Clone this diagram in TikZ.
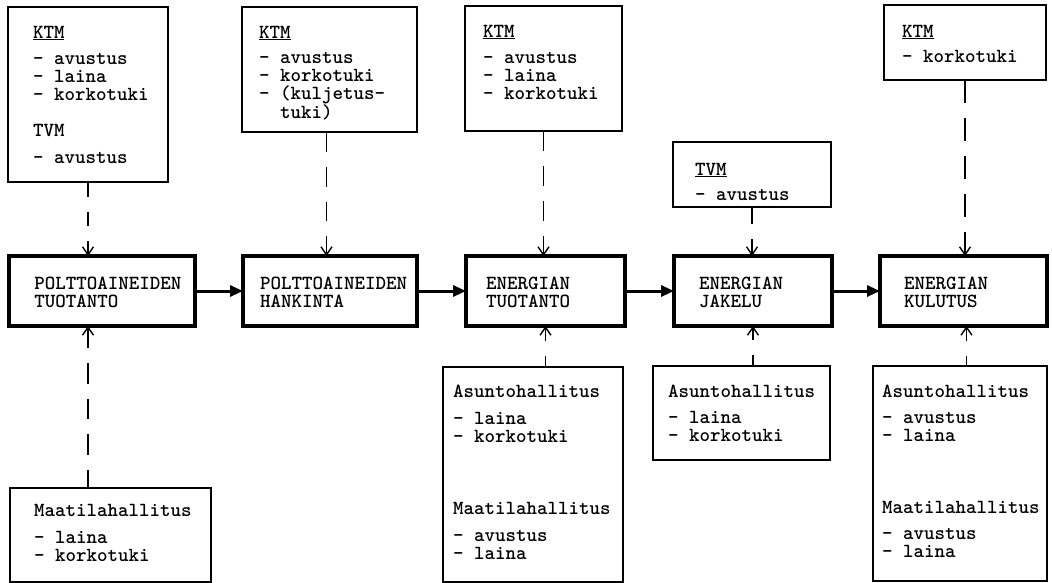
\documentclass[tikz,border=0pt]{standalone}
\usetikzlibrary{arrows.meta}
\begin{document}
\begin{tikzpicture}[x=1pt,y=-1pt,
  box/.style={draw, line width=1.4pt, inner sep=0pt, outer sep=0pt, anchor=north west},
  mainbox/.style={draw, line width=3.2pt, inner sep=0pt, outer sep=0pt, anchor=north west},
  txt/.style={anchor=north west, inner sep=0pt, outer sep=0pt, align=left, font=\ttfamily\bfseries\fontsize{20}{18}\selectfont},
  flow/.style={line width=3pt, -{Triangle[length=13pt,width=11pt]}},
  conn/.style={line width=1.4pt, -{Straight Barb[length=8pt,width=11pt]}, dash pattern=on #1 off 15pt},
  connr/.style={line width=1.4pt, {Straight Barb[length=8pt,width=11pt]}-, dash pattern=on #1 off 15pt},
]
\useasboundingbox (0,0) rectangle (1052,583);

% top boxes
\node[box, minimum width=160pt, minimum height=175pt] (k1) at (8,7) {};
\node[box, minimum width=175pt, minimum height=125pt] (k2) at (242,7) {};
\node[box, minimum width=157pt, minimum height=125pt] (k3) at (465,6) {};
\node[box, minimum width=158pt, minimum height=65pt] (k4) at (673,142) {};
\node[box, minimum width=162pt, minimum height=75pt] (k5) at (884,5) {};

\node[txt] (k1t) at (33,25.8) {\underline{KTM}\\[8pt]- avustus\\- laina\\- korkotuki\\[18pt]TVM\\[9pt]- avustus};
\node[txt] (k2t) at (259,25.8) {\underline{KTM}\\[7pt]- avustus\\- korkotuki\\- (kuljetus-\\\phantom{- }tuki)};
\node[txt] (k3t) at (483,24.8) {\underline{KTM}\\[8pt]- avustus\\- laina\\- korkotuki};
\node[txt] (k4t) at (695,162.8) {\underline{TVM}\\[7pt]- avustus};
\node[txt] (k5t) at (902,24.8) {\underline{KTM}\\[7pt]- korkotuki};

% main boxes
\node[mainbox, minimum width=186pt, minimum height=70pt] (m1) at (9,256) {};
\node[mainbox, minimum width=174pt, minimum height=70pt] (m2) at (243,256) {};
\node[mainbox, minimum width=159pt, minimum height=70pt] (m3) at (466,256) {};
\node[mainbox, minimum width=158pt, minimum height=70pt] (m4) at (674,256) {};
\node[mainbox, minimum width=167pt, minimum height=70pt] (m5) at (880,256) {};

\node[txt] (m1t) at (34.4,276.8) {POLTTOAINEIDEN\\TUOTANTO};
\node[txt] (m2t) at (260,276.8) {POLTTOAINEIDEN\\HANKINTA};
\node[txt] (m3t) at (486,276.8) {ENERGIAN\\TUOTANTO};
\node[txt] (m4t) at (699,276.8) {ENERGIAN\\JAKELU};
\node[txt] (m5t) at (904,276.8) {ENERGIAN\\KULUTUS};

% bottom boxes
\node[box, minimum width=201pt, minimum height=94pt] (b1) at (10,488) {};
\node[box, minimum width=180pt, minimum height=215pt] (b3) at (443,367) {};
\node[box, minimum width=177pt, minimum height=94pt] (b4) at (653,366) {};
\node[box, minimum width=174pt, minimum height=215pt] (b5) at (873,366) {};

\node[txt] (b1t) at (34,503.8) {Maatilahallitus\\[9pt]- laina\\- korkotuki};
\node[txt] (b3t) at (453,384.8) {Asuntohallitus\\[9pt]- laina\\- korkotuki\\[54pt]Maatilahallitus\\[9pt]- avustus\\- laina};
\node[txt] (b4t) at (668,384.8) {Asuntohallitus\\[8pt]- laina\\- korkotuki};
\node[txt] (b5t) at (882,384.8) {Asuntohallitus\\[8pt]- avustus\\- laina\\[54pt]Maatilahallitus\\[8pt]- avustus\\- laina};

% flow arrows
\draw[flow] (m1.east) -- (m2.west);
\draw[flow] (m2.east) -- (m3.west);
\draw[flow] (m3.east) -- (m4.west);
\draw[flow] (m4.east) -- (m5.west);

% top connectors
\draw[conn=14.7pt] (k1.south) -- (k1.south |- m1.north);
\draw[conn=19.75pt] ([xshift=-3pt]k2.south) -- ([xshift=-3pt]k2.south |- m2.north);
\draw[conn=20pt] (k3.south) -- (k3.south |- m3.north);
\draw[conn=17pt] (k4.south) -- (k4.south |- m4.north);
\draw[conn=23pt] (k5.south) -- (k5.south |- m5.north);

% bottom connectors
\draw[connr=20.4pt] (m1.south -| k1.south) -- (b1.north -| k1.south);
\draw[connr=13pt] (m3.south) -- (m3.south |- b3.north);
\draw[connr=12.5pt] (m4.south) -- (m4.south |- b4.north);
\draw[connr=13pt] ([xshift=3pt]m5.south) -- ([xshift=3pt]m5.south |- b5.north);
\end{tikzpicture}
\end{document}
